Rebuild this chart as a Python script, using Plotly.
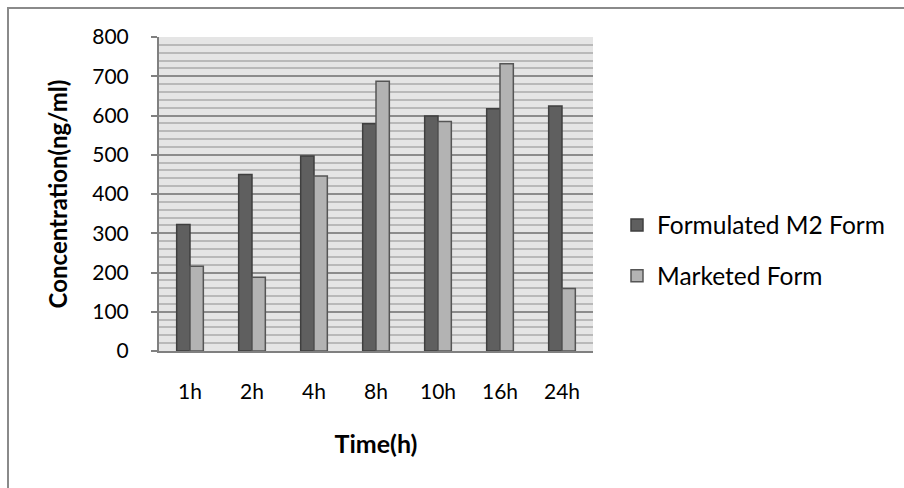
import plotly.graph_objects as go

categories = ["1h", "2h", "4h", "8h", "10h", "16h", "24h"]
formulated = [322, 450, 497, 579, 599, 617, 624]
marketed = [216, 188, 446, 687, 585, 732, 159]
series_names = ["Formulated M2 Form", "Marketed Form"]
y_ticks = [0, 100, 200, 300, 400, 500, 600, 700, 800]

FONT = "Lato"

fig = go.Figure()
fig.add_trace(go.Bar(
    x=categories, y=formulated, name=series_names[0], legendgroup="a",
    marker=dict(color="#5f5f5f", line=dict(color="#3f3f3f", width=1.5)),
))
fig.add_trace(go.Bar(
    x=categories, y=marketed, name=series_names[1], legendgroup="b",
    marker=dict(color="#b3b3b3", line=dict(color="#555555", width=1.5)),
))

fig.update_layout(
    width=904, height=488,
    margin=dict(l=159, r=311, t=37, b=137),
    paper_bgcolor="white",
    plot_bgcolor="#e5e5e5",
    barmode="group",
    bargap=0.57,
    bargroupgap=0,
    font=dict(family=FONT, size=21, color="#000000"),
    legend=dict(
        x=(617 - 159) / 434, xanchor="left",
        y=(351 - 250.5) / 314, yanchor="middle",
        traceorder="grouped", tracegroupgap=16,
        font=dict(family=FONT, size=24.5, color="#000000"),
        bgcolor="rgba(0,0,0,0)",
    ),
    xaxis=dict(
        showgrid=False, ticks="", showline=True, linecolor="#808080", linewidth=2,
        ticklabelstandoff=21,
        title=dict(text="<b>Time(h)</b>", standoff=33, font=dict(family=FONT, size=25)),
    ),
    yaxis=dict(
        range=[0, 800], tickvals=y_ticks, showline=True, linecolor="#808080", linewidth=2,
        ticks="outside", ticklen=6, tickcolor="#808080", tickwidth=1.5,
        ticklabelstandoff=18,
        showgrid=True, gridcolor="#8c8c8c", gridwidth=2,
        minor=dict(dtick=20, showgrid=True, gridcolor="#b9b9b9", gridwidth=2, ticks=""),
        zeroline=False,
        title=dict(text="<b>Concentration(ng/ml)</b>", standoff=18, font=dict(family=FONT, size=24)),
    ),
    shapes=[dict(
        type="rect", xref="paper", yref="paper",
        x0=(8 - 159) / 434, x1=(915 - 159) / 434,
        y0=(351 - 500) / 314, y1=(351 - 8) / 314,
        line=dict(color="#8a8a8a", width=2), fillcolor="rgba(0,0,0,0)", layer="below",
    )],
)

fig.write_html("out.html")
